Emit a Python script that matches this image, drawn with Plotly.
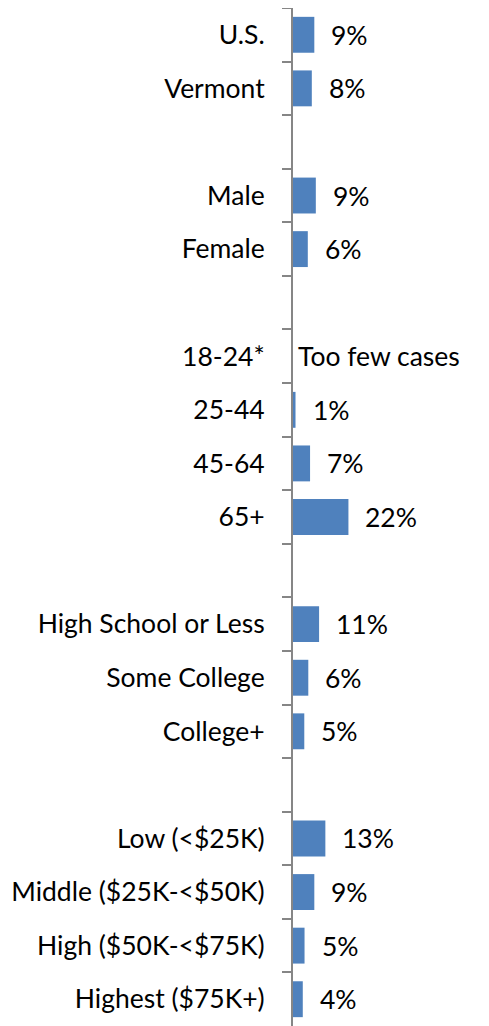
import plotly.graph_objects as go

# ── data (top to bottom; blank names are spacer rows) ─────────────────
categories = ["U.S.", "Vermont", " ",
              "Male", "Female", "  ",
              "18-24*", "25-44", "45-64", "65+", "   ",
              "High School or Less", "Some College", "College+", "    ",
              "Low (<$25K)", "Middle ($25K-<$50K)", "High ($50K-<$75K)",
              "Highest ($75K+)"]
values = [8.5, 7.5, None,
          9.1, 5.9, None,
          None, 1.0, 6.8, 22.1, None,
          10.4, 6.1, 4.5, None,
          12.9, 8.5, 4.6, 3.9]
value_labels = ["9%", "8%", "",
                "9%", "6%", "",
                "Too few cases", "1%", "7%", "22%", "",
                "11%", "6%", "5%", "",
                "13%", "9%", "5%", "4%"]

FONT = "Lato"
FSIZE = 26.5
BLUE = "#4F81BD"
GREY = "#868686"

fig = go.Figure(go.Bar(
    x=values, y=categories, orientation="h",
    marker=dict(color=BLUE, line=dict(width=0)),
    hoverinfo="skip",
))

# value labels to the right of each bar
for cat, v, lab in zip(categories, values, value_labels):
    if not lab:
        continue
    if v is None:
        fig.add_annotation(x=0, y=cat, text=lab, showarrow=False,
                           xanchor="left", xshift=3,
                           font=dict(family=FONT, size=FSIZE, color="black"))
    else:
        fig.add_annotation(x=v, y=cat, text=lab, showarrow=False,
                           xanchor="left", xshift=15,
                           font=dict(family=FONT, size=FSIZE, color="black"))

# page body adds an 8px margin, so the figure is sized/offset to suit
fig.update_layout(
    width=481, height=1018,
    margin=dict(l=285, r=43, t=0, b=0),
    paper_bgcolor="white", plot_bgcolor="white",
    bargap=0.33, showlegend=False,
    font=dict(family=FONT, size=FSIZE, color="black"),
)
fig.update_xaxes(range=[0, 61], visible=False, fixedrange=True)
fig.update_yaxes(
    type="category", autorange="reversed",
    categoryorder="array", categoryarray=categories,
    tickson="boundaries", ticks="outside", ticklen=9, tickwidth=2,
    tickcolor=GREY, showline=True, linecolor=GREY, linewidth=2,
    showgrid=False, ticklabelstandoff=21,
    tickfont=dict(family=FONT, size=FSIZE, color="black"),
    fixedrange=True,
)

fig.write_html("out.html")
